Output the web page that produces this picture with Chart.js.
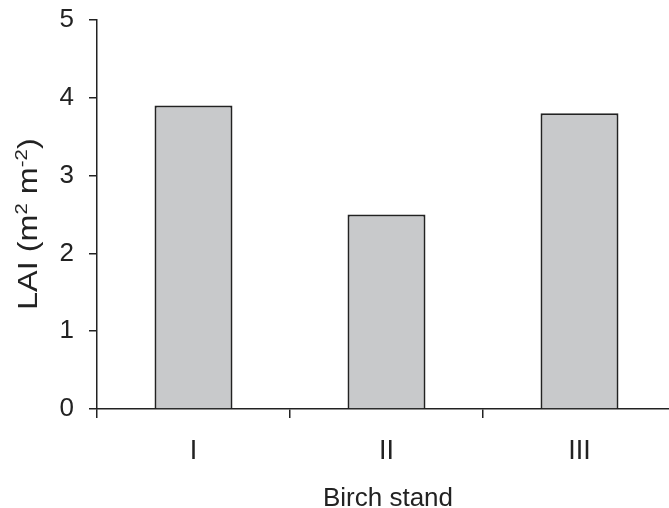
<!DOCTYPE html>
<html>
<head>
<meta charset="utf-8">
<script src="https://cdn.jsdelivr.net/npm/chart.js@4"></script>
<style>
  body { margin: 0; background: #fff; }
  #wrap { width: 669px; height: 508px; overflow: hidden; }
</style>
</head>
<body>
<div id="wrap"><canvas id="laiChart" width="680" height="508"></canvas></div>
<script>
// birch stands and their leaf area index
var stands = ['I', 'II', 'III'];
var laiValues = [3.9, 2.5, 3.8];
var yTicks = [0, 1, 2, 3, 4, 5];

var ink = '#222222';
var fontFam = '"Liberation Sans", Arial, Helvetica, sans-serif';

// axis titles, drawn by hand so the unit can have superscripts
var titlePlugin = {
  id: 'axisTitles',
  afterDraw: function(chart) {
    var ctx = chart.ctx;
    ctx.save();
    ctx.fillStyle = ink;
    ctx.textBaseline = 'alphabetic';
    ctx.textAlign = 'left';

    // y title, rotated and a bit stretched along its length like the original
    var parts = [
      {t: 'LAI (m', size: 27, rise: 0},
      {t: '2', size: 17, rise: 10},
      {t: ' m', size: 27, rise: 0},
      {t: '-2', size: 17, rise: 10},
      {t: ')', size: 27, rise: 0}
    ];
    ctx.translate(37, 310);
    ctx.rotate(-Math.PI / 2);
    ctx.scale(1.2, 1);
    var x = 0;
    parts.forEach(function(p) {
      ctx.font = p.size + 'px ' + fontFam;
      ctx.fillText(p.t, x, -p.rise);
      x += ctx.measureText(p.t).width;
    });
    ctx.restore();

    ctx.save();
    ctx.fillStyle = ink;
    ctx.font = '26px ' + fontFam;
    ctx.textAlign = 'center';
    ctx.textBaseline = 'alphabetic';
    ctx.fillText('Birch stand', 388, 506);
    ctx.restore();
  }
};

var ctx = document.getElementById('laiChart').getContext('2d');
new Chart(ctx, {
  type: 'bar',
  data: {
    labels: stands,
    datasets: [{
      data: laiValues,
      backgroundColor: '#c8c9cb',
      borderColor: ink,
      borderWidth: 2,
      categoryPercentage: 1,
      barPercentage: 0.404
    }]
  },
  options: {
    responsive: false,
    animation: false,
    layout: {padding: {left: 0, right: 4, top: 20, bottom: 0}},
    plugins: {legend: {display: false}, tooltip: {enabled: false}},
    scales: {
      x: {
        grid: {display: true, drawOnChartArea: false, drawTicks: true, tickLength: 9, color: ink, lineWidth: 1.5, offset: true},
        border: {display: true, color: ink, width: 1.5},
        ticks: {color: ink, font: {size: 27, family: fontFam}, padding: 17, maxRotation: 0},
        afterFit: function(s) { s.height = 99; s.paddingLeft = 0; s.paddingRight = 0; }
      },
      y: {
        min: 0,
        max: 5,
        afterBuildTicks: function(s) { s.ticks = yTicks.map(function(v) { return {value: v}; }); },
        grid: {display: true, drawOnChartArea: false, drawTicks: true, tickLength: 8, color: ink, lineWidth: 1.5},
        border: {display: true, color: ink, width: 1.5},
        ticks: {color: ink, font: {size: 26, family: fontFam}, padding: 15},
        afterFit: function(s) { s.width = 97; s.paddingTop = 0; s.paddingBottom = 0; }
      }
    }
  },
  plugins: [titlePlugin]
});
</script>
</body>
</html>
